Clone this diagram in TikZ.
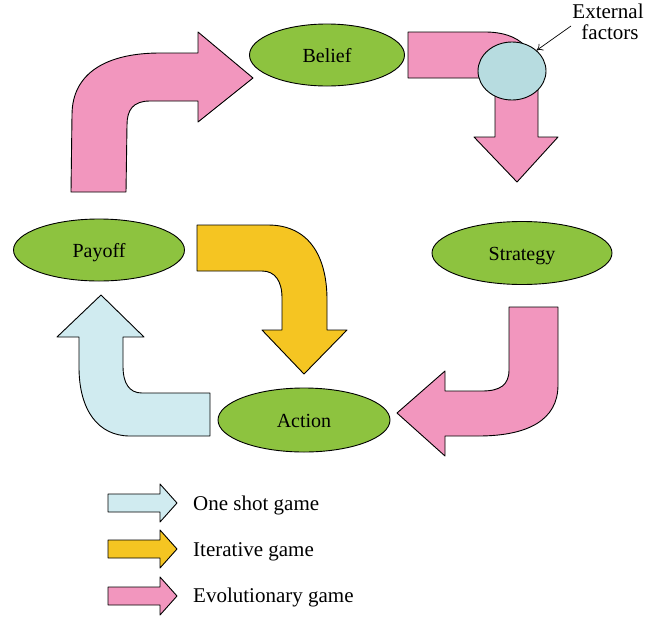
\documentclass[tikz,border=0pt]{standalone}
\usepackage{fontspec}
\setmainfont{Liberation Serif}
\usetikzlibrary{shapes.geometric,arrows.meta}
\definecolor{leaf}{RGB}{141,195,63}
\definecolor{rosy}{RGB}{242,150,190}
\definecolor{gold}{RGB}{245,197,34}
\definecolor{paleblue}{RGB}{208,235,240}
\definecolor{circblue}{RGB}{183,220,224}
\tikzset{
  bigarrow/.style={draw=black, line width=0.9pt, line join=round},
  pinkarrow/.style={bigarrow, fill=rosy},
  yellowarrow/.style={bigarrow, fill=gold},
  bluearrow/.style={bigarrow, fill=paleblue},
  state/.style={ellipse, draw=black, line width=0.9pt, fill=leaf, inner sep=0pt, text height=14pt, text depth=0pt},
  lbl/.style={font=\fontsize{20}{23}\selectfont},
  leg/.style={font=\fontsize{21}{24}\selectfont, anchor=base west, inner sep=0pt},
}
\newcommand\legarrow[2]{\draw[#1] (108,#2-9) -- (160,#2-9) -- (160,#2-19) -- (177,#2) -- (160,#2+19) -- (160,#2+9) -- (108,#2+9) -- cycle;}
\begin{document}
\begin{tikzpicture}[x=1pt,y=-1pt]
\useasboundingbox (0,0) rectangle (645,619);

% top-left pink arrow (Payoff -> Belief)
\draw[pinkarrow] (71,192) -- (72,115) .. controls (72,72) and (108,53) .. (160,53) -- (198,53) -- (198,32) -- (253,78) -- (198,122) -- (198,101) -- (150,101) .. controls (133,101) and (127,110) .. (127,125) -- (126,192) -- cycle;

% top-right pink arrow (Belief -> Strategy)
\draw[pinkarrow] (408,32) -- (485,32) .. controls (520,32) and (538,50) .. (538,85) -- (538,137) -- (558,137) -- (517,182) -- (474,137) -- (495,137) -- (495,90) .. controls (495,82) and (490,78) .. (480,78) -- (408,78) -- cycle;

% yellow arrow (Payoff -> Action)
\draw[yellowarrow] (197,225) -- (268,225) .. controls (308,225) and (327,255) .. (327,300) -- (327,330) -- (347,330) -- (304,374) -- (262,330) -- (282,330) -- (282,298) .. controls (282,281) and (275,271) .. (262,271) -- (197,271) -- cycle;

% pink arrow (Strategy -> Action)
\draw[pinkarrow] (509,307) -- (558,307) -- (558,385) .. controls (558,420) and (528,436) .. (478,436) -- (445,436) -- (445,456) -- (397,413) -- (445,371) -- (445,391) -- (482,391) .. controls (500,391) and (509,385) .. (509,370) -- cycle;

% light blue arrow (Action -> Payoff)
\draw[bluearrow] (210,393) -- (210,436) -- (130,436) .. controls (98,436) and (79,410) .. (79,367) -- (79,337) -- (57,337) -- (101,295) -- (144,337) -- (123,337) -- (123,366) .. controls (123,383) and (129,393) .. (142,393) -- cycle;

% states
\node[state, lbl, minimum width=155pt, minimum height=62pt] (belief) at (327,55) {Belief};
\node[state, lbl, minimum width=171pt, minimum height=62pt] (payoff) at (99,250) {Payoff};
\node[state, lbl, minimum width=180pt, minimum height=63pt] (strategy) at (522,253) {Strategy};
\node[state, lbl, minimum width=172pt, minimum height=64pt] (action) at (304,420) {Action};

% external factors
\node[ellipse, draw=black, line width=0.9pt, fill=circblue, minimum width=68pt, minimum height=58pt, inner sep=0pt] (ef) at (512,71) {};
\node[font=\fontsize{21}{24}\selectfont, anchor=base, inner sep=0pt] (ext) at (608,18) {External};
\node[font=\fontsize{21}{24}\selectfont, anchor=base, inner sep=0pt] (extb) at (610,39) {factors};
\coordinate (extfrom) at (571,26);
\draw[line width=0.7pt, -{To[length=6pt,width=8pt]}] (extfrom) -- (ef.40);

% legend
\legarrow{bluearrow}{503}
\legarrow{yellowarrow}{549}
\legarrow{pinkarrow}{596}
\node[leg] (l1) at (193,510) {One shot game};
\node[leg] (l2) at (193,556) {Iterative game};
\node[leg] (l3) at (193,602) {Evolutionary game};
\end{tikzpicture}
\end{document}
